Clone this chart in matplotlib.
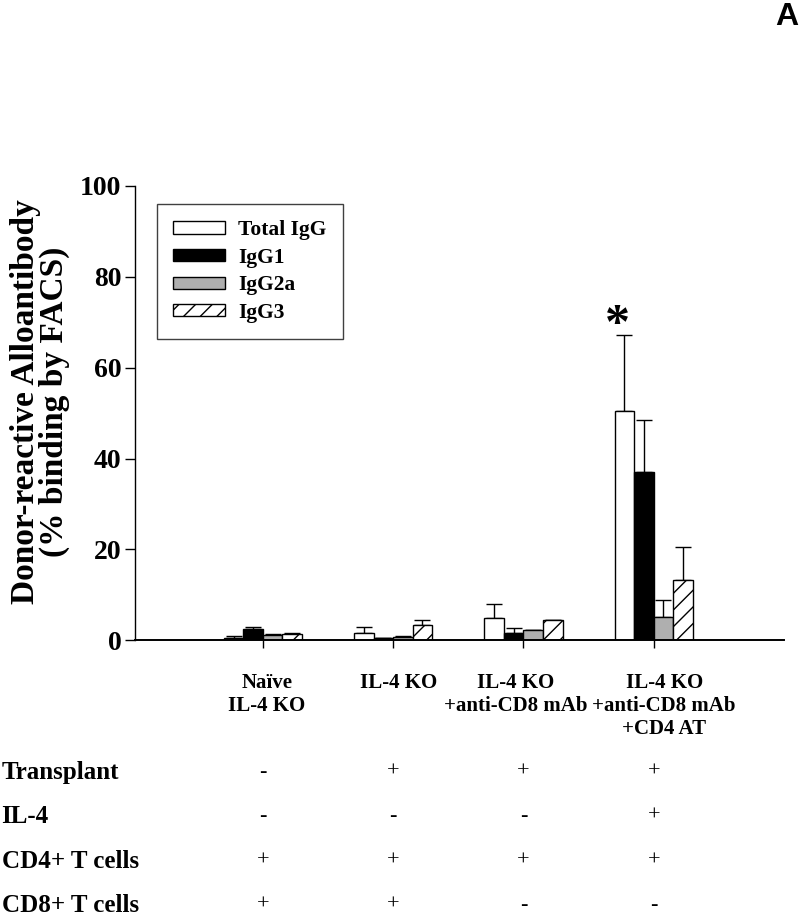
import numpy as np
import matplotlib.pyplot as plt
from matplotlib.transforms import blended_transform_factory

groups = ['Naïve\nIL-4 KO', 'IL-4 KO', 'IL-4 KO\n+anti-CD8 mAb',
          'IL-4 KO\n+anti-CD8 mAb\n+CD4 AT']
series = ['Total IgG', 'IgG1', 'IgG2a', 'IgG3']

total_igg = [0.6, 1.7, 4.9, 50.4]
total_err = [0.35, 1.3, 3.0, 16.8]
igg1 = [2.4, 0.4, 1.7, 37.0]
igg1_err = [0.6, 0.0, 1.0, 11.4]
igg2a = [1.2, 0.8, 2.2, 5.1]
igg2a_err = [0.1, 0.1, 0.1, 3.7]
igg3 = [1.4, 3.4, 4.4, 13.2]
igg3_err = [0.1, 1.1, 0.1, 7.3]

row_labels = ['Transplant', 'IL-4', 'CD4+ T cells', 'CD8+ T cells']
row_marks = [['-', '+', '+', '+'],
             ['-', '-', '-', '+'],
             ['+', '+', '+', '+'],
             ['+', '+', '-', '-']]

plt.rcParams['font.family'] = 'Liberation Serif'
plt.rcParams['hatch.linewidth'] = 1.0

fig = plt.figure(figsize=(8, 9.16), dpi=100)
ax = fig.add_axes([0.169, 0.301, 0.811, 0.496])

values = [total_igg, igg1, igg2a, igg3]
errors = [total_err, igg1_err, igg2a_err, igg3_err]
faces = ['white', 'black', '#afafaf', 'white']
hatches = [None, None, None, '//']
w = 0.15
x = np.arange(1, len(groups) + 1)

for i in range(4):
    pos = x + (i - 1.5) * w
    err = [np.zeros(len(groups)), errors[i]]
    ax.bar(pos, values[i], width=w, color=faces[i], edgecolor='black',
           linewidth=1.0, hatch=hatches[i], label=series[i], zorder=2,
           yerr=err, error_kw=dict(ecolor='black', elinewidth=1.0,
                                   capsize=5.5, capthick=1.0, zorder=1))

# significance mark over the total IgG bar of the last group
ax.text(x[3] - 1.5 * w - 0.05, 66.5, '*', fontsize=36, fontweight='bold',
        ha='center', va='baseline')

ax.set_xlim(0.02, 5.0)
ax.set_ylim(0, 100)
ax.set_yticks([0, 20, 40, 60, 80, 100])
ax.set_xticks(x)
ax.set_xticklabels([])
for lab in ax.get_yticklabels():
    lab.set_fontsize(20)
    lab.set_fontweight('bold')
ax.tick_params(axis='y', direction='out', length=7, width=1.0, pad=3)
ax.tick_params(axis='x', direction='out', length=6, width=1.0)
ax.spines['top'].set_visible(False)
ax.spines['right'].set_visible(False)
ax.spines['left'].set_linewidth(1.0)
ax.spines['bottom'].set_linewidth(1.4)

# group names, nudged the way the original places them
label_shift = [0.03, 0.04, -0.06, 0.08]
xlab = blended_transform_factory(ax.transData, ax.transAxes)
for c, g in enumerate(groups):
    ax.text(x[c] + label_shift[c], -0.071, g, transform=xlab, fontsize=15,
            fontweight='bold', ha='center', va='top', multialignment='center')

ax.set_ylabel('Donor-reactive Alloantibody\n(% binding by FACS)',
              fontsize=24, fontweight='bold', linespacing=0.9)
ax.yaxis.set_label_coords(-0.1, 0.525)

leg = ax.legend(loc='upper left', bbox_to_anchor=(0.034, 0.96),
                borderaxespad=0, fancybox=False, framealpha=1,
                edgecolor='#404040', handlelength=2.4, handleheight=0.5,
                handletextpad=0.6, labelspacing=0.35, borderpad=0.75,
                prop={'size': 15.5, 'weight': 'bold'})
leg.get_frame().set_linewidth(1.0)

# treatment table below the chart
trans = blended_transform_factory(ax.transData, fig.transFigure)
row_y = [0.157, 0.109, 0.060, 0.012]
for r, lab in enumerate(row_labels):
    fig.text(0.002, row_y[r], lab, fontsize=18, fontweight='bold',
             ha='left', va='center')
    for c, m in enumerate(row_marks[r]):
        ax.text(x[c], row_y[r], m, transform=trans, fontsize=16,
                ha='center', va='center', clip_on=False)

fig.text(0.998, 0.998, 'A', family='Liberation Sans', fontsize=23,
         fontweight='bold', ha='right', va='top')

fig.savefig('out.png', dpi=100)
